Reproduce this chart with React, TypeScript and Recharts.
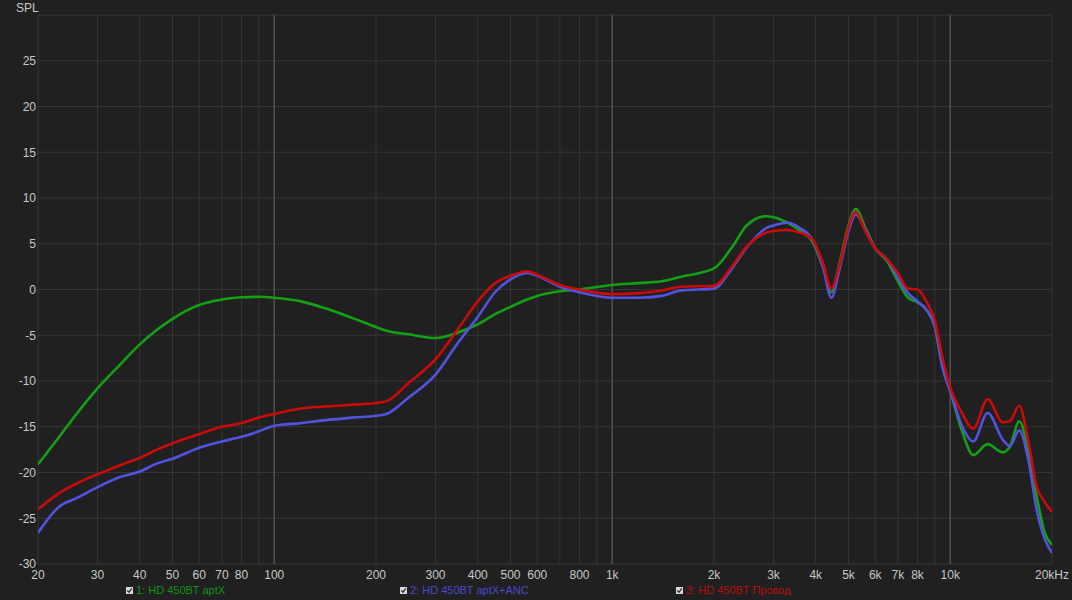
import React from 'react';
import { CartesianGrid, Line, LineChart, ReferenceLine, XAxis, YAxis } from 'recharts';

const freqs = [
  20, 23, 26, 30, 35, 40, 45, 50, 60, 70, 80, 90, 100, 120, 140, 170, 200, 215, 250, 300, 350, 400,
  450, 500, 560, 600, 700, 800, 1000, 1200, 1400, 1600, 2000, 2250, 2500, 2850, 3000, 3300, 3600,
  3900, 4200, 4450, 4700, 5000, 5250, 5600, 6000, 6500, 7000, 7500, 8000, 8500, 9000, 9500, 10000,
  10800, 11700, 12900, 14300, 15000, 16000, 17000, 18000, 19000, 20000,
];

const aptx = [
  -19.1, -16.2, -13.6, -10.8, -8.2, -6.0, -4.4, -3.2, -1.7, -1.1, -0.85, -0.8, -0.9, -1.3, -2.0,
  -3.1, -4.1, -4.5, -4.9, -5.3, -4.7, -3.8, -2.7, -1.9, -1.1, -0.7, -0.2, 0.0, 0.5, 0.7, 0.9, 1.4,
  2.3, 4.5, 7.0, 8.0, 7.9, 7.3, 6.4, 5.3, 2.5, -0.3, 2.8, 7.0, 8.8, 6.8, 4.5, 3.1, 0.9, -0.9, -1.4,
  -2.2, -4.0, -8.6, -11.1, -15.3, -18.1, -16.9, -17.8, -17.2, -14.4, -17.5, -22.5, -26.5, -27.9,
];

const aptxAnc = [
  -26.6, -23.8, -22.8, -21.6, -20.5, -19.9, -19.0, -18.5, -17.3, -16.6, -16.1, -15.5, -14.9, -14.6,
  -14.3, -14.0, -13.8, -13.6, -11.8, -9.3, -5.8, -3.0, -0.3, 1.1, 1.8, 1.5, 0.3, -0.3, -0.9, -0.9,
  -0.7, -0.1, 0.1, 2.2, 4.6, 6.7, 7.0, 7.3, 6.7, 5.5, 2.5, -0.9, 2.2, 6.4, 8.2, 6.6, 4.5, 3.3, 1.3,
  -0.4, -1.3, -2.2, -4.0, -8.6, -11.1, -14.8, -16.6, -13.5, -16.4, -17.1, -15.4, -18.5, -24.0,
  -27.2, -28.8,
];

const provod = [
  -24.0, -22.3, -21.2, -20.2, -19.2, -18.4, -17.5, -16.8, -15.8, -15.0, -14.6, -14.0, -13.6, -13.0,
  -12.8, -12.6, -12.4, -12.2, -10.2, -7.6, -4.3, -1.3, 0.7, 1.5, 2.0, 1.6, 0.5, 0.0, -0.5, -0.4,
  -0.1, 0.3, 0.4, 2.4, 4.7, 6.2, 6.4, 6.5, 6.2, 5.5, 2.9, 0.1, 2.6, 6.8, 8.5, 6.4, 4.5, 3.3, 1.8,
  0.1, 0.0, -1.3, -3.4, -7.6, -10.7, -13.4, -15.2, -12.0, -14.5, -14.4, -12.7, -16.5, -21.5, -23.2,
  -24.3,
];

const xTicks = [
  20, 30, 40, 50, 60, 70, 80, 90, 100, 200, 300, 400, 500, 600, 700, 800, 900, 1000, 2000, 3000,
  4000, 5000, 6000, 7000, 8000, 9000, 10000, 20000,
];
const xLabels: Record<number, string> = {
  20: '20', 30: '30', 40: '40', 50: '50', 60: '60', 70: '70', 80: '80', 100: '100', 200: '200',
  300: '300', 400: '400', 500: '500', 600: '600', 800: '800', 1000: '1k', 2000: '2k', 3000: '3k',
  4000: '4k', 5000: '5k', 6000: '6k', 7000: '7k', 8000: '8k', 10000: '10k', 20000: '20kHz',
};
const decades = [100, 1000, 10000];
const yTicks = [-30, -25, -20, -15, -10, -5, 0, 5, 10, 15, 20, 25, 30];

const series = [
  { key: 'a', name: '1: HD 450BT aptX', color: '#14a014', text: '#139313', left: 126 },
  { key: 'b', name: '2: HD 450BT aptX+ANC', color: '#5252e0', text: '#4a4ad0', left: 400 },
  { key: 'c', name: '3: HD 450BT Провод', color: '#cc0a0a', text: '#b80c0c', left: 676 },
];

const rows = freqs.map((f, i) => ({ f, a: aptx[i], b: aptxAnc[i], c: provod[i] }));

const font = '"Liberation Sans", Arial, sans-serif';
const tickStyle = { fill: '#c8c8c8', fontSize: 12, fontFamily: font };

export default function App() {
  return (
    <div
      style={{
        position: 'fixed',
        left: 0,
        top: 0,
        width: 1072,
        height: 600,
        background: '#202020',
        fontFamily: font,
      }}
    >
      <LineChart width={1072} height={600} data={rows} margin={{ top: 15, right: 20, bottom: 16, left: 0 }}>
        <CartesianGrid stroke="#353535" strokeWidth={1} />
        {decades.map((d) => (
          <ReferenceLine key={d} x={d} stroke="#505050" strokeWidth={1.5} />
        ))}
        <XAxis
          dataKey="f"
          type="number"
          scale="log"
          domain={[20, 20000]}
          ticks={xTicks}
          interval={0}
          allowDataOverflow
          tickFormatter={(v: number) => xLabels[v] ?? ''}
          axisLine={false}
          tickLine={false}
          tickSize={0}
          tickMargin={6}
          height={20}
          tick={tickStyle}
        />
        <YAxis
          type="number"
          domain={[-30, 30]}
          ticks={yTicks}
          interval={0}
          tickFormatter={(v: number) => (v === 30 ? '' : String(v))}
          axisLine={false}
          tickLine={false}
          tickSize={0}
          tickMargin={2}
          width={38}
          tick={tickStyle}
        />
        {series.map((s) => (
          <Line
            key={s.key}
            dataKey={s.key}
            type="monotone"
            stroke={s.color}
            strokeWidth={2.6}
            dot={false}
            isAnimationActive={false}
          />
        ))}
      </LineChart>
      <div style={{ position: 'absolute', left: 16, top: 1, color: '#c8c8c8', fontSize: 12 }}>SPL</div>
      {series.map((s) => (
        <div
          key={s.key}
          style={{
            position: 'absolute',
            left: s.left,
            top: 584,
            display: 'flex',
            alignItems: 'center',
            color: s.text,
            fontSize: 11,
          }}
        >
          <svg width={7} height={7} style={{ marginRight: 3 }}>
            <rect x={0} y={0} width={7} height={7} fill="#d8d8d8" />
            <path d="M1.3 3.5 L3 5.3 L5.8 1.3" stroke="#303030" strokeWidth={1.3} fill="none" />
          </svg>
          <span>{s.name}</span>
        </div>
      ))}
    </div>
  );
}
